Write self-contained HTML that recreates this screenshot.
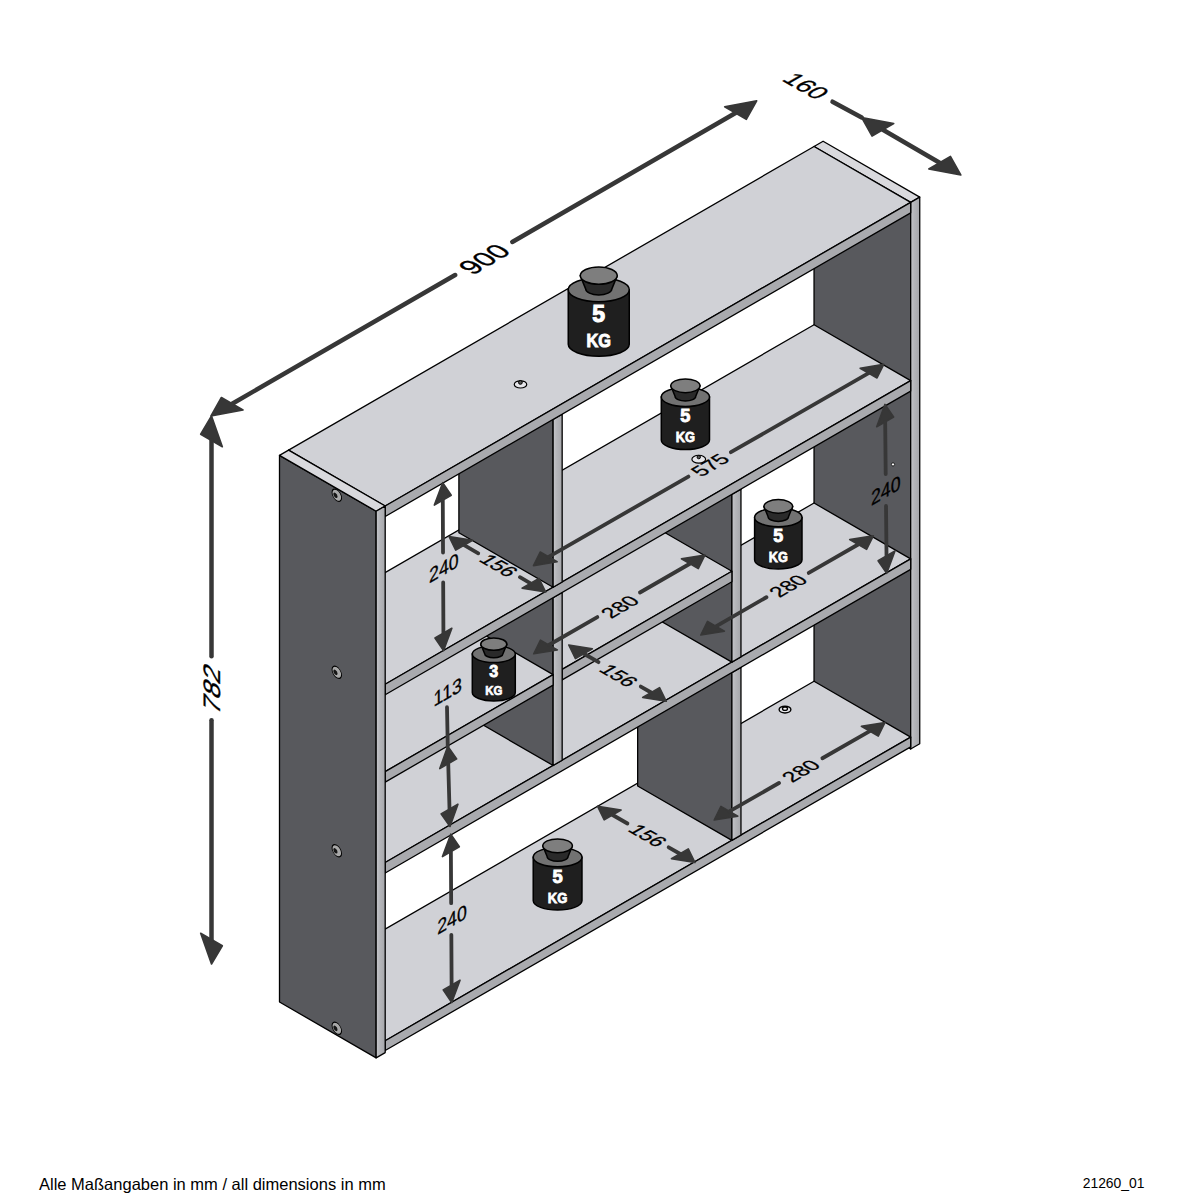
<!DOCTYPE html>
<html><head><meta charset="utf-8"><style>
html,body{margin:0;padding:0;background:#fff;width:1200px;height:1200px;overflow:hidden}
svg{position:absolute;left:0;top:0}
svg text{font-family:"Liberation Sans",sans-serif}
</style></head><body>
<svg width="1200" height="1200" viewBox="0 0 1200 1200">
<defs><linearGradient id="gv" x1="0" y1="0" x2="1" y2="0"><stop offset="0" stop-color="#c6c7cb"/><stop offset="0.35" stop-color="#b6b7bb"/><stop offset="1" stop-color="#a6a7ab"/></linearGradient></defs>
<polygon points="814.04,146.52 910.68,202.36 910.68,748.98 814.04,693.13" fill="#58595d" stroke="#000" stroke-width="1.30" stroke-linejoin="round" />
<polygon points="814.04,146.52 823.10,141.28 919.74,197.12 910.68,202.36" fill="#d9d9dd" stroke="#000" stroke-width="1.30" stroke-linejoin="round" />
<polygon points="910.68,202.36 919.74,197.12 919.74,743.74 910.68,748.98" fill="url(#gv)" stroke="#000" stroke-width="1.30" stroke-linejoin="round" />
<polygon points="288.56,984.88 385.20,1040.72 385.20,1050.51 288.56,994.67" fill="#58595d" stroke="#000" stroke-width="1.30" stroke-linejoin="round" />
<polygon points="288.56,984.88 814.04,681.25 910.68,737.09 385.20,1040.72" fill="#d0d1d6" stroke="#000" stroke-width="1.30" stroke-linejoin="round" />
<polygon points="385.20,1040.72 910.68,737.09 910.68,746.88 385.20,1050.51" fill="#a9aaae" stroke="#000" stroke-width="1.30" stroke-linejoin="round" />
<polygon points="637.67,618.19 731.90,672.64 731.90,840.40 637.67,785.95" fill="#58595d" stroke="#000" stroke-width="1.30" stroke-linejoin="round" />
<polygon points="637.67,618.19 646.73,612.96 740.96,667.40 731.90,672.64" fill="#d9d9dd" stroke="#000" stroke-width="1.30" stroke-linejoin="round" />
<polygon points="731.90,672.64 740.96,667.40 740.96,835.16 731.90,840.40" fill="url(#gv)" stroke="#000" stroke-width="1.30" stroke-linejoin="round" />
<polygon points="288.56,806.64 385.20,862.48 385.20,872.96 288.56,817.12" fill="#58595d" stroke="#000" stroke-width="1.30" stroke-linejoin="round" />
<polygon points="288.56,806.64 814.04,503.01 910.68,558.85 385.20,862.48" fill="#d0d1d6" stroke="#000" stroke-width="1.30" stroke-linejoin="round" />
<polygon points="385.20,862.48 910.68,558.85 910.68,569.33 385.20,872.96" fill="#a9aaae" stroke="#000" stroke-width="1.30" stroke-linejoin="round" />
<polygon points="637.67,439.95 731.90,494.39 731.90,662.15 637.67,607.71" fill="#58595d" stroke="#000" stroke-width="1.30" stroke-linejoin="round" />
<polygon points="637.67,439.95 646.73,434.71 740.96,489.16 731.90,494.39" fill="#d9d9dd" stroke="#000" stroke-width="1.30" stroke-linejoin="round" />
<polygon points="731.90,494.39 740.96,489.16 740.96,656.92 731.90,662.15" fill="url(#gv)" stroke="#000" stroke-width="1.30" stroke-linejoin="round" />
<polygon points="465.53,613.51 562.17,669.35 562.17,679.84 465.53,624.00" fill="#58595d" stroke="#000" stroke-width="1.30" stroke-linejoin="round" />
<polygon points="465.53,613.51 635.26,515.44 731.90,571.28 562.17,669.35" fill="#d0d1d6" stroke="#000" stroke-width="1.30" stroke-linejoin="round" />
<polygon points="562.17,669.35 731.90,571.28 731.90,581.77 562.17,679.84" fill="#a9aaae" stroke="#000" stroke-width="1.30" stroke-linejoin="round" />
<polygon points="458.89,543.25 553.11,597.70 553.11,765.46 458.89,711.01" fill="#58595d" stroke="#000" stroke-width="1.30" stroke-linejoin="round" />
<polygon points="458.89,543.25 467.95,538.02 562.17,592.46 553.11,597.70" fill="#d9d9dd" stroke="#000" stroke-width="1.30" stroke-linejoin="round" />
<polygon points="553.11,597.70 562.17,592.46 562.17,760.22 553.11,765.46" fill="url(#gv)" stroke="#000" stroke-width="1.30" stroke-linejoin="round" />
<polygon points="288.56,715.77 385.20,771.61 385.20,782.09 288.56,726.25" fill="#58595d" stroke="#000" stroke-width="1.30" stroke-linejoin="round" />
<polygon points="288.56,715.77 456.47,618.75 553.11,674.59 385.20,771.61" fill="#d0d1d6" stroke="#000" stroke-width="1.30" stroke-linejoin="round" />
<polygon points="385.20,771.61 553.11,674.59 553.11,685.07 385.20,782.09" fill="#a9aaae" stroke="#000" stroke-width="1.30" stroke-linejoin="round" />
<polygon points="288.56,628.39 385.20,684.23 385.20,694.72 288.56,638.88" fill="#58595d" stroke="#000" stroke-width="1.30" stroke-linejoin="round" />
<polygon points="288.56,628.39 814.04,324.76 910.68,380.60 385.20,684.23" fill="#d0d1d6" stroke="#000" stroke-width="1.30" stroke-linejoin="round" />
<polygon points="385.20,684.23 910.68,380.60 910.68,391.09 385.20,694.72" fill="#a9aaae" stroke="#000" stroke-width="1.30" stroke-linejoin="round" />
<polygon points="458.89,365.01 553.11,419.45 553.11,587.21 458.89,532.77" fill="#58595d" stroke="#000" stroke-width="1.30" stroke-linejoin="round" />
<polygon points="458.89,365.01 467.95,359.77 562.17,414.22 553.11,419.45" fill="#d9d9dd" stroke="#000" stroke-width="1.30" stroke-linejoin="round" />
<polygon points="553.11,419.45 562.17,414.22 562.17,581.98 553.11,587.21" fill="url(#gv)" stroke="#000" stroke-width="1.30" stroke-linejoin="round" />
<polygon points="288.56,450.15 385.20,505.99 385.20,516.47 288.56,460.63" fill="#58595d" stroke="#000" stroke-width="1.30" stroke-linejoin="round" />
<polygon points="288.56,450.15 814.04,146.52 910.68,202.36 385.20,505.99" fill="#d0d1d6" stroke="#000" stroke-width="1.30" stroke-linejoin="round" />
<polygon points="385.20,505.99 910.68,202.36 910.68,212.84 385.20,516.47" fill="#a9aaae" stroke="#000" stroke-width="1.30" stroke-linejoin="round" />
<polygon points="279.50,455.38 376.14,511.22 376.14,1057.84 279.50,1002.00" fill="#58595d" stroke="#000" stroke-width="1.30" stroke-linejoin="round" />
<polygon points="279.50,455.38 288.56,450.15 385.20,505.99 376.14,511.22" fill="#d9d9dd" stroke="#000" stroke-width="1.30" stroke-linejoin="round" />
<polygon points="376.14,511.22 385.20,505.99 385.20,1052.61 376.14,1057.84" fill="url(#gv)" stroke="#000" stroke-width="1.30" stroke-linejoin="round" />
<g transform="matrix(0.866,0.5,0,-1,336.80,495.20)"><circle r="5.50" fill="#a8a8a8" stroke="#000" stroke-width="1.1"/><circle cx="-1.6" cy="-0.9" r="2.4" fill="#151515"/></g>
<g transform="matrix(0.866,0.5,0,-1,336.80,672.30)"><circle r="5.50" fill="#a8a8a8" stroke="#000" stroke-width="1.1"/><circle cx="-1.6" cy="-0.9" r="2.4" fill="#151515"/></g>
<g transform="matrix(0.866,0.5,0,-1,336.80,850.70)"><circle r="5.50" fill="#a8a8a8" stroke="#000" stroke-width="1.1"/><circle cx="-1.6" cy="-0.9" r="2.4" fill="#151515"/></g>
<g transform="matrix(0.866,0.5,0,-1,336.80,1028.30)"><circle r="5.50" fill="#a8a8a8" stroke="#000" stroke-width="1.1"/><circle cx="-1.6" cy="-0.9" r="2.4" fill="#151515"/></g>
<ellipse cx="520.50" cy="384.40" rx="6.25" ry="3.61" fill="#e6e6ea" stroke="#000" stroke-width="1.20"/>
<circle cx="520.4" cy="382.4" r="1.9" fill="#555" stroke="#000" stroke-width="1"/>
<ellipse cx="698.75" cy="459.20" rx="6.86" ry="3.96" fill="#e6e6ea" stroke="#000" stroke-width="1.20"/>
<circle cx="698.75" cy="457.1" r="1.7" fill="#555" stroke="#000" stroke-width="1"/>
<ellipse cx="785.00" cy="709.60" rx="5.88" ry="3.39" fill="#e6e6ea" stroke="#000" stroke-width="1.40"/>
<ellipse cx="785" cy="708.7" rx="2.5" ry="1.7" fill="#f2f2f4" stroke="#000" stroke-width="1.3"/>
<circle cx="893" cy="464.4" r="1.6" fill="#fff" stroke="#000" stroke-width="0.8"/>
<path d="M568.25,289.77 L568.25,344.25 A30.50,12.02 0 0 0 629.25,344.25 L629.25,289.77 Z" fill="#1f1f1f" stroke="#000" stroke-width="1.50"/>
<ellipse cx="598.75" cy="289.77" rx="30.50" ry="12.02" fill="#727272" stroke="#000" stroke-width="1.50"/>
<path d="M580.27,275.62 L585.63,288.86 A13.12,6.10 0 0 0 611.87,288.86 L617.23,275.62 Z" fill="#2a2a2a" stroke="#000" stroke-width="1.50" stroke-linejoin="round"/>
<ellipse cx="598.75" cy="275.62" rx="18.48" ry="8.72" fill="#7e7e7e" stroke="#000" stroke-width="1.50"/>
<text x="598.75" y="322.04" font-weight="bold" font-size="23.00" fill="#fff" stroke="#fff" stroke-width="1.10" text-anchor="middle">5</text>
<text transform="translate(598.75,347.18) scale(0.87,1)" font-weight="bold" font-size="18.73" fill="#fff" stroke="#fff" stroke-width="0.98" text-anchor="middle">KG</text>
<path d="M661.30,396.97 L661.30,440.02 A24.10,9.50 0 0 0 709.50,440.02 L709.50,396.97 Z" fill="#1f1f1f" stroke="#000" stroke-width="1.50"/>
<ellipse cx="685.40" cy="396.97" rx="24.10" ry="9.50" fill="#727272" stroke="#000" stroke-width="1.50"/>
<path d="M670.80,385.79 L675.04,396.25 A10.36,4.82 0 0 0 695.76,396.25 L700.00,385.79 Z" fill="#2a2a2a" stroke="#000" stroke-width="1.50" stroke-linejoin="round"/>
<ellipse cx="685.40" cy="385.79" rx="14.60" ry="6.89" fill="#7e7e7e" stroke="#000" stroke-width="1.50"/>
<text x="685.40" y="422.47" font-weight="bold" font-size="18.17" fill="#fff" stroke="#fff" stroke-width="0.87" text-anchor="middle">5</text>
<text transform="translate(685.40,442.33) scale(0.87,1)" font-weight="bold" font-size="14.80" fill="#fff" stroke="#fff" stroke-width="0.77" text-anchor="middle">KG</text>
<path d="M754.60,517.38 L754.60,559.70 A23.70,9.34 0 0 0 802.00,559.70 L802.00,517.38 Z" fill="#1f1f1f" stroke="#000" stroke-width="1.50"/>
<ellipse cx="778.30" cy="517.38" rx="23.70" ry="9.34" fill="#727272" stroke="#000" stroke-width="1.50"/>
<path d="M763.94,506.38 L768.11,516.66 A10.19,4.74 0 0 0 788.49,516.66 L792.66,506.38 Z" fill="#2a2a2a" stroke="#000" stroke-width="1.50" stroke-linejoin="round"/>
<ellipse cx="778.30" cy="506.38" rx="14.36" ry="6.78" fill="#7e7e7e" stroke="#000" stroke-width="1.50"/>
<text x="778.30" y="542.45" font-weight="bold" font-size="17.87" fill="#fff" stroke="#fff" stroke-width="0.85" text-anchor="middle">5</text>
<text transform="translate(778.30,561.98) scale(0.87,1)" font-weight="bold" font-size="14.55" fill="#fff" stroke="#fff" stroke-width="0.76" text-anchor="middle">KG</text>
<path d="M472.30,654.12 L472.30,692.52 A21.50,8.47 0 0 0 515.30,692.52 L515.30,654.12 Z" fill="#1f1f1f" stroke="#000" stroke-width="1.50"/>
<ellipse cx="493.80" cy="654.12" rx="21.50" ry="8.47" fill="#727272" stroke="#000" stroke-width="1.50"/>
<path d="M480.77,644.15 L484.56,653.48 A9.24,4.30 0 0 0 503.05,653.48 L506.83,644.15 Z" fill="#2a2a2a" stroke="#000" stroke-width="1.50" stroke-linejoin="round"/>
<ellipse cx="493.80" cy="644.15" rx="13.03" ry="6.15" fill="#7e7e7e" stroke="#000" stroke-width="1.50"/>
<text x="493.80" y="676.87" font-weight="bold" font-size="16.21" fill="#fff" stroke="#fff" stroke-width="0.77" text-anchor="middle">3</text>
<text transform="translate(493.80,694.59) scale(0.87,1)" font-weight="bold" font-size="13.20" fill="#fff" stroke="#fff" stroke-width="0.69" text-anchor="middle">KG</text>
<path d="M533.23,857.18 L533.23,900.71 A24.38,9.60 0 0 0 581.98,900.71 L581.98,857.18 Z" fill="#1f1f1f" stroke="#000" stroke-width="1.50"/>
<ellipse cx="557.60" cy="857.18" rx="24.38" ry="9.60" fill="#727272" stroke="#000" stroke-width="1.50"/>
<path d="M542.83,845.87 L547.12,856.45 A10.48,4.88 0 0 0 568.08,856.45 L572.37,845.87 Z" fill="#2a2a2a" stroke="#000" stroke-width="1.50" stroke-linejoin="round"/>
<ellipse cx="557.60" cy="845.87" rx="14.77" ry="6.97" fill="#7e7e7e" stroke="#000" stroke-width="1.50"/>
<text x="557.60" y="882.97" font-weight="bold" font-size="18.38" fill="#fff" stroke="#fff" stroke-width="0.88" text-anchor="middle">5</text>
<text transform="translate(557.60,903.05) scale(0.87,1)" font-weight="bold" font-size="14.97" fill="#fff" stroke="#fff" stroke-width="0.78" text-anchor="middle">KG</text>
<polygon points="211.00,416.00 243.04,410.00 221.39,397.50" fill="#373737" stroke="#373737" stroke-width="1.6" stroke-linejoin="round"/>
<polygon points="756.70,100.80 746.31,119.30 724.66,106.80" fill="#373737" stroke="#373737" stroke-width="1.6" stroke-linejoin="round"/>
<line x1="232.22" y1="403.75" x2="455.13" y2="274.99" stroke="#373737" stroke-width="4.50" stroke-linecap="round"/>
<line x1="512.28" y1="241.98" x2="735.48" y2="113.05" stroke="#373737" stroke-width="4.50" stroke-linecap="round"/>
<g transform="matrix(0.8660,-0.5000,0.8660,0.5000,484.00,259.00)"><text x="0" y="9.84" font-size="27.50" fill="#000" stroke="#000" stroke-width="0.35" text-anchor="middle">900</text></g>
<polygon points="211.50,416.00 222.33,446.75 200.67,434.25" fill="#373737" stroke="#373737" stroke-width="1.6" stroke-linejoin="round"/>
<polygon points="211.50,964.00 222.33,945.75 200.67,933.25" fill="#373737" stroke="#373737" stroke-width="1.6" stroke-linejoin="round"/>
<line x1="211.50" y1="440.50" x2="211.50" y2="656.30" stroke="#373737" stroke-width="4.50" stroke-linecap="round"/>
<line x1="211.50" y1="720.30" x2="211.50" y2="939.50" stroke="#373737" stroke-width="4.50" stroke-linecap="round"/>
<g transform="matrix(0.0000,-1.0000,0.8660,0.5000,211.50,688.30)"><text x="0" y="9.84" font-size="27.50" fill="#000" stroke="#000" stroke-width="0.35" text-anchor="middle">782</text></g>
<polygon points="861.70,117.50 893.72,123.55 872.07,136.05" fill="#373737" stroke="#373737" stroke-width="1.6" stroke-linejoin="round"/>
<polygon points="960.80,175.00 950.43,156.45 928.78,168.95" fill="#373737" stroke="#373737" stroke-width="1.6" stroke-linejoin="round"/>
<line x1="882.89" y1="129.80" x2="939.61" y2="162.70" stroke="#373737" stroke-width="4.50" stroke-linecap="round"/>
<line x1="832.50" y1="101.70" x2="861.70" y2="117.50" stroke="#373737" stroke-width="4.50" stroke-linecap="round"/>
<g transform="matrix(0.8660,0.5000,-0.8660,0.5000,806.20,85.80)"><text x="0" y="8.77" font-size="24.50" fill="#000" stroke="#000" stroke-width="0.35" text-anchor="middle">160</text></g>
<polygon points="442.70,482.70 451.23,495.32 434.34,505.07" fill="#373737" stroke="#373737" stroke-width="1.6" stroke-linejoin="round"/>
<polygon points="443.50,650.60 451.86,628.23 434.97,637.98" fill="#373737" stroke="#373737" stroke-width="1.6" stroke-linejoin="round"/>
<line x1="442.78" y1="500.20" x2="443.03" y2="552.50" stroke="#373737" stroke-width="3.80" stroke-linecap="round"/>
<line x1="443.18" y1="582.50" x2="443.42" y2="633.10" stroke="#373737" stroke-width="3.80" stroke-linecap="round"/>
<g transform="matrix(0.8660,-0.5000,0.0000,1.0000,443.90,567.50)"><text x="0" y="7.34" font-size="20.50" fill="#000" stroke="#000" stroke-width="0.30" text-anchor="middle">240</text></g>
<polygon points="449.00,536.50 472.62,540.34 455.73,550.09" fill="#373737" stroke="#373737" stroke-width="1.6" stroke-linejoin="round"/>
<polygon points="545.70,592.00 538.97,578.41 522.08,588.16" fill="#373737" stroke="#373737" stroke-width="1.6" stroke-linejoin="round"/>
<line x1="464.18" y1="545.21" x2="478.27" y2="553.30" stroke="#373737" stroke-width="3.80" stroke-linecap="round"/>
<line x1="519.90" y1="577.19" x2="530.52" y2="583.29" stroke="#373737" stroke-width="3.80" stroke-linecap="round"/>
<g transform="matrix(0.8660,0.5000,-0.8660,0.5000,499.00,565.40)"><text x="0" y="7.34" font-size="20.50" fill="#000" stroke="#000" stroke-width="0.30" text-anchor="middle">156</text></g>
<polygon points="533.50,565.60 557.12,561.76 540.23,552.01" fill="#373737" stroke="#373737" stroke-width="1.6" stroke-linejoin="round"/>
<polygon points="883.75,364.40 877.02,377.99 860.13,368.24" fill="#373737" stroke="#373737" stroke-width="1.6" stroke-linejoin="round"/>
<line x1="548.67" y1="556.88" x2="688.41" y2="476.61" stroke="#373737" stroke-width="3.80" stroke-linecap="round"/>
<line x1="730.90" y1="452.20" x2="868.58" y2="373.12" stroke="#373737" stroke-width="3.80" stroke-linecap="round"/>
<g transform="matrix(0.8660,-0.5000,0.8660,0.5000,710.00,465.00)"><text x="0" y="7.34" font-size="20.50" fill="#000" stroke="#000" stroke-width="0.30" text-anchor="middle">575</text></g>
<polygon points="533.75,653.75 557.35,649.88 540.47,640.13" fill="#373737" stroke="#373737" stroke-width="1.6" stroke-linejoin="round"/>
<polygon points="705.00,555.00 698.28,568.62 681.40,558.87" fill="#373737" stroke="#373737" stroke-width="1.6" stroke-linejoin="round"/>
<line x1="548.91" y1="645.01" x2="597.34" y2="617.08" stroke="#373737" stroke-width="3.80" stroke-linecap="round"/>
<line x1="639.96" y1="592.50" x2="689.84" y2="563.74" stroke="#373737" stroke-width="3.80" stroke-linecap="round"/>
<g transform="matrix(0.8660,-0.5000,0.8660,0.5000,619.75,606.70)"><text x="0" y="7.34" font-size="20.50" fill="#000" stroke="#000" stroke-width="0.30" text-anchor="middle">280</text></g>
<polygon points="568.75,645.00 592.35,648.87 575.46,658.62" fill="#373737" stroke="#373737" stroke-width="1.6" stroke-linejoin="round"/>
<polygon points="666.25,701.25 659.54,687.63 642.65,697.38" fill="#373737" stroke="#373737" stroke-width="1.6" stroke-linejoin="round"/>
<line x1="583.91" y1="653.75" x2="598.52" y2="662.17" stroke="#373737" stroke-width="3.80" stroke-linecap="round"/>
<line x1="640.79" y1="686.56" x2="651.09" y2="692.50" stroke="#373737" stroke-width="3.80" stroke-linecap="round"/>
<g transform="matrix(0.8660,0.5000,-0.8660,0.5000,619.00,675.50)"><text x="0" y="7.34" font-size="20.50" fill="#000" stroke="#000" stroke-width="0.30" text-anchor="middle">156</text></g>
<polygon points="700.80,635.00 724.41,631.15 707.53,621.40" fill="#373737" stroke="#373737" stroke-width="1.6" stroke-linejoin="round"/>
<polygon points="873.30,535.80 866.57,549.40 849.69,539.65" fill="#373737" stroke="#373737" stroke-width="1.6" stroke-linejoin="round"/>
<line x1="715.97" y1="626.28" x2="766.44" y2="597.25" stroke="#373737" stroke-width="3.80" stroke-linecap="round"/>
<line x1="808.74" y1="572.93" x2="858.13" y2="544.52" stroke="#373737" stroke-width="3.80" stroke-linecap="round"/>
<g transform="matrix(0.8660,-0.5000,0.8660,0.5000,788.00,585.80)"><text x="0" y="7.34" font-size="20.50" fill="#000" stroke="#000" stroke-width="0.30" text-anchor="middle">280</text></g>
<polygon points="885.00,404.40 893.62,417.02 876.73,426.77" fill="#373737" stroke="#373737" stroke-width="1.6" stroke-linejoin="round"/>
<polygon points="886.70,573.30 894.97,550.93 878.08,560.68" fill="#373737" stroke="#373737" stroke-width="1.6" stroke-linejoin="round"/>
<line x1="885.18" y1="421.90" x2="885.70" y2="474.00" stroke="#373737" stroke-width="3.80" stroke-linecap="round"/>
<line x1="886.02" y1="506.00" x2="886.52" y2="555.80" stroke="#373737" stroke-width="3.80" stroke-linecap="round"/>
<g transform="matrix(0.8660,-0.5000,0.0000,1.0000,885.80,490.00)"><text x="0" y="7.34" font-size="20.50" fill="#000" stroke="#000" stroke-width="0.30" text-anchor="middle">240</text></g>
<polygon points="447.75,746.25 456.68,758.87 439.80,768.62" fill="#373737" stroke="#373737" stroke-width="1.6" stroke-linejoin="round"/>
<polygon points="450.00,826.50 457.95,804.13 441.07,813.88" fill="#373737" stroke="#373737" stroke-width="1.6" stroke-linejoin="round"/>
<line x1="448.24" y1="763.74" x2="449.51" y2="809.01" stroke="#373737" stroke-width="3.80" stroke-linecap="round"/>
<line x1="447.00" y1="707.25" x2="447.75" y2="746.25" stroke="#373737" stroke-width="3.80" stroke-linecap="round"/>
<g transform="matrix(0.8660,-0.5000,0.0000,1.0000,447.75,691.50)"><text x="0" y="7.34" font-size="20.50" fill="#000" stroke="#000" stroke-width="0.30" text-anchor="middle">113</text></g>
<polygon points="450.80,834.20 459.34,846.82 442.45,856.57" fill="#373737" stroke="#373737" stroke-width="1.6" stroke-linejoin="round"/>
<polygon points="451.70,1002.50 460.05,980.13 443.16,989.88" fill="#373737" stroke="#373737" stroke-width="1.6" stroke-linejoin="round"/>
<line x1="450.89" y1="851.70" x2="451.17" y2="903.20" stroke="#373737" stroke-width="3.80" stroke-linecap="round"/>
<line x1="451.34" y1="934.80" x2="451.61" y2="985.00" stroke="#373737" stroke-width="3.80" stroke-linecap="round"/>
<g transform="matrix(0.8660,-0.5000,0.0000,1.0000,452.00,919.00)"><text x="0" y="7.34" font-size="20.50" fill="#000" stroke="#000" stroke-width="0.30" text-anchor="middle">240</text></g>
<polygon points="597.50,806.25 621.10,810.12 604.21,819.87" fill="#373737" stroke="#373737" stroke-width="1.6" stroke-linejoin="round"/>
<polygon points="695.00,862.50 688.29,848.88 671.40,858.63" fill="#373737" stroke="#373737" stroke-width="1.6" stroke-linejoin="round"/>
<line x1="612.66" y1="815.00" x2="627.43" y2="823.52" stroke="#373737" stroke-width="3.80" stroke-linecap="round"/>
<line x1="668.67" y1="847.31" x2="679.84" y2="853.75" stroke="#373737" stroke-width="3.80" stroke-linecap="round"/>
<g transform="matrix(0.8660,0.5000,-0.8660,0.5000,648.00,835.50)"><text x="0" y="7.34" font-size="20.50" fill="#000" stroke="#000" stroke-width="0.30" text-anchor="middle">156</text></g>
<polygon points="714.20,820.00 737.84,816.20 720.95,806.45" fill="#373737" stroke="#373737" stroke-width="1.6" stroke-linejoin="round"/>
<polygon points="885.00,722.50 878.25,736.05 861.36,726.30" fill="#373737" stroke="#373737" stroke-width="1.6" stroke-linejoin="round"/>
<line x1="729.40" y1="811.32" x2="778.99" y2="783.02" stroke="#373737" stroke-width="3.80" stroke-linecap="round"/>
<line x1="822.41" y1="758.23" x2="869.80" y2="731.18" stroke="#373737" stroke-width="3.80" stroke-linecap="round"/>
<g transform="matrix(0.8660,-0.5000,0.8660,0.5000,800.80,770.80)"><text x="0" y="7.34" font-size="20.50" fill="#000" stroke="#000" stroke-width="0.30" text-anchor="middle">280</text></g>
<text x="39" y="1190" font-size="16.5" fill="#000">Alle Maßangaben in mm / all dimensions in mm</text>
<text x="1082.7" y="1187.8" font-size="13.9" fill="#000">21260_01</text>
</svg>
</body></html>
